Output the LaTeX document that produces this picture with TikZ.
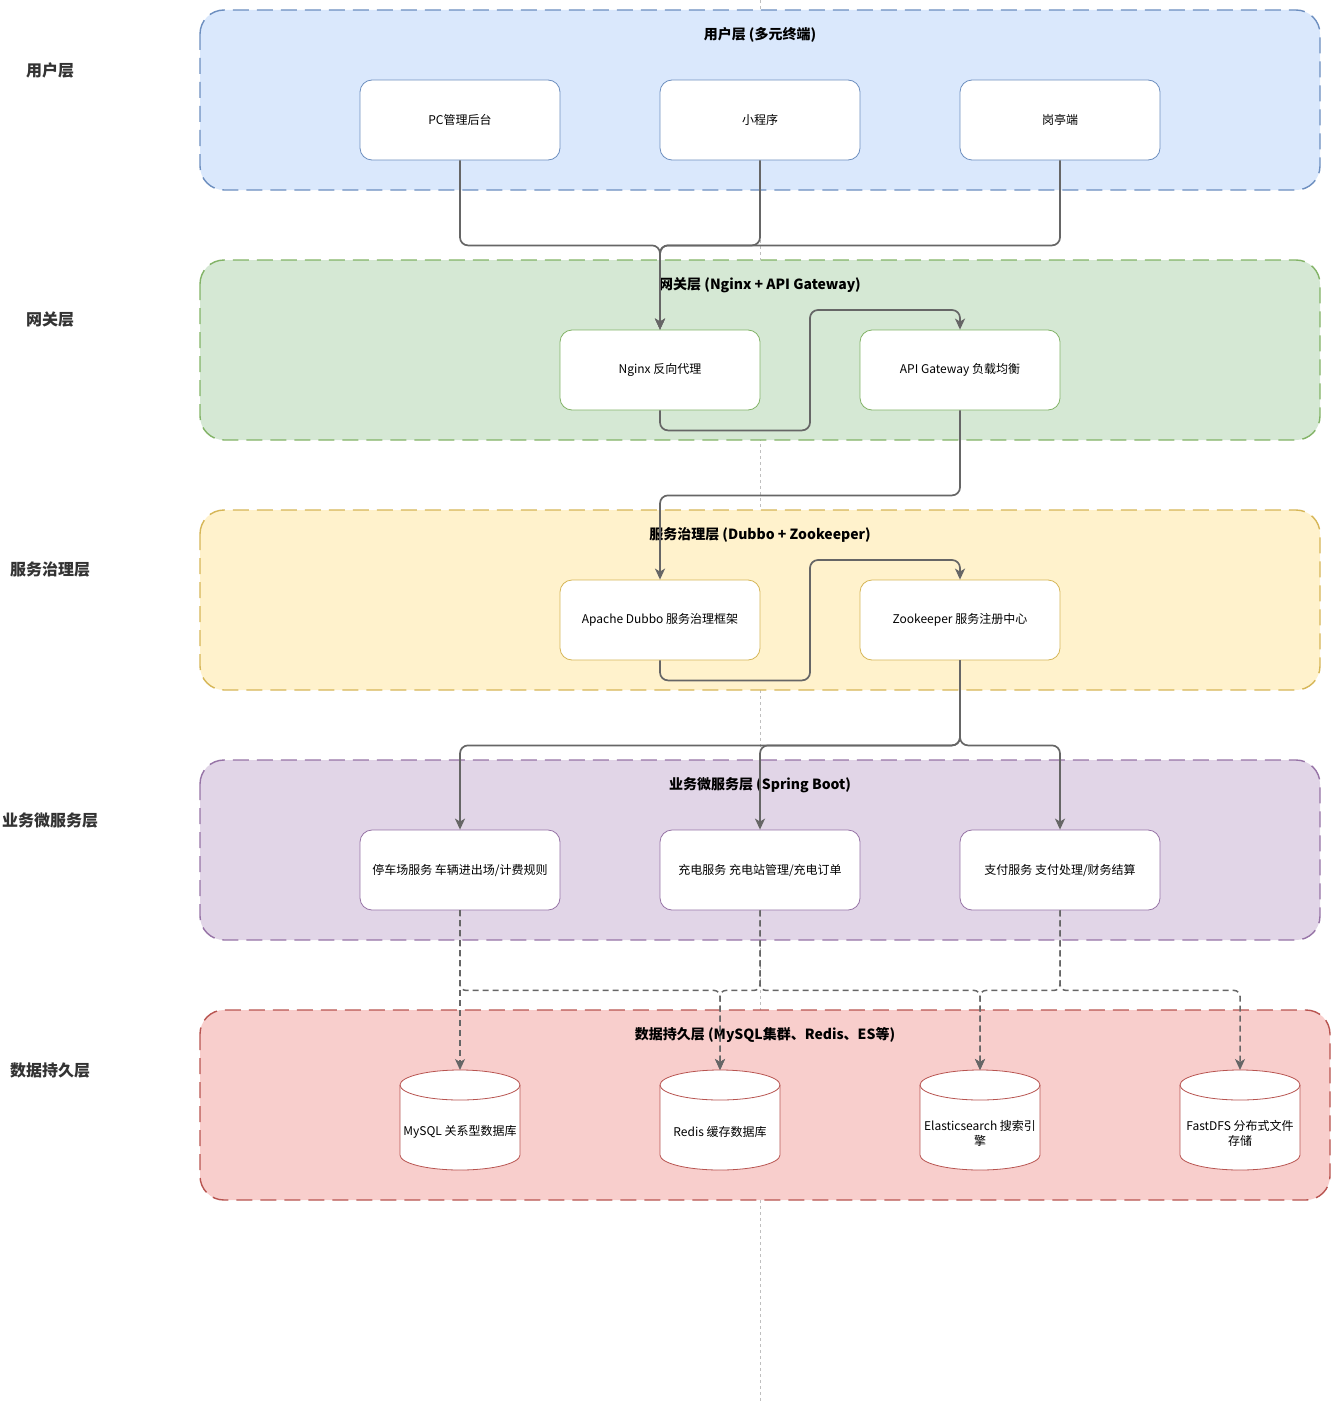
\documentclass[tikz,border=0pt]{standalone}
\usepackage{fontspec}
\setmainfont{Noto Sans CJK SC}
\usetikzlibrary{arrows.meta,calc}
\definecolor{ink}{HTML}{333333}
\definecolor{wire}{HTML}{666666}
\definecolor{userline}{HTML}{6C8EBF}
\definecolor{userfill}{HTML}{DAE8FC}
\definecolor{gateline}{HTML}{82B366}
\definecolor{gatefill}{HTML}{D5E8D4}
\definecolor{govline}{HTML}{D6B656}
\definecolor{govfill}{HTML}{FFF2CC}
\definecolor{bizline}{HTML}{9673A6}
\definecolor{bizfill}{HTML}{E1D5E7}
\definecolor{dataline}{HTML}{B85450}
\definecolor{datafill}{HTML}{F8CECC}

\begin{document}
\begin{tikzpicture}[x=1pt,y=-1pt,>={Stealth[length=11pt,width=10pt,inset=3pt]},
  every node/.style={font=\fontsize{12pt}{15pt}\selectfont,text=black},
  layer/.style 2 args={draw=#1,fill=#2,line width=1.4pt,
    dash pattern=on 16pt off 8pt,rounded corners=24pt},
  box/.style={draw=#1,fill=white,line width=0.8pt,rounded corners=12pt,
    minimum width=200pt,minimum height=80pt,inner sep=2pt},
  title/.style={font=\bfseries\fontsize{14pt}{16pt}\selectfont},
  side/.style={font=\bfseries\fontsize{16pt}{18pt}\selectfont,text=ink},
  flow/.style={->,wire,line width=1.7pt,rounded corners=8pt},
  dataflow/.style={->,wire,line width=1.5pt,dash pattern=on 6pt off 4pt,
    rounded corners=6pt},
  dbline/.style={draw=dataline,fill=white,line width=0.8pt}]
  \useasboundingbox (0,0) rectangle (1331,1402);

  % faint guide behind the layers
  \draw[black!25,line width=0.6pt,dash pattern=on 3pt off 3pt] (760,0) -- (760,1402);

  % layers
  \path[layer={userline}{userfill}] (200,10) rectangle (1320,190);
  \path[layer={gateline}{gatefill}] (200,260) rectangle (1320,440);
  \path[layer={govline}{govfill}] (200,510) rectangle (1320,690);
  \path[layer={bizline}{bizfill}] (200,760) rectangle (1320,940);
  \path[layer={dataline}{datafill}] (200,1010) rectangle (1330,1200);

  \node[title] (t-user) at (760,35) {用户层 (多元终端)};
  \node[title] (t-gate) at (760,285) {网关层 (Nginx + API Gateway)};
  \node[title] (t-gov) at (760,535) {服务治理层 (Dubbo + Zookeeper)};
  \node[title] (t-biz) at (760,785) {业务微服务层 (Spring Boot)};
  \node[title] (t-data) at (765,1035) {数据持久层 (MySQL集群、Redis、ES等)};

  \node[side] (s-user) at (50,70) {用户层};
  \node[side] (s-gate) at (50,320) {网关层};
  \node[side] (s-gov) at (50,570) {服务治理层};
  \node[side] (s-biz) at (50,820) {业务微服务层};
  \node[side] (s-data) at (50,1070) {数据持久层};

  % terminals
  \node[box=userline] (pc) at (460,120) {PC管理后台};
  \node[box=userline] (mini) at (760,120) {小程序};
  \node[box=userline] (booth) at (1060,120) {岗亭端};

  % gateway
  \node[box=gateline] (nginx) at (660,370) {Nginx 反向代理};
  \node[box=gateline] (api) at (960,370) {API Gateway 负载均衡};

  % governance
  \node[box=govline] (dubbo) at (660,620) {Apache Dubbo 服务治理框架};
  \node[box=govline] (zk) at (960,620) {Zookeeper 服务注册中心};

  % services
  \node[box=bizline] (park) at (460,870) {停车场服务 车辆进出场/计费规则};
  \node[box=bizline] (charge) at (760,870) {充电服务 充电站管理/充电订单};
  \node[box=bizline] (pay) at (1060,870) {支付服务 支付处理/财务结算};

  % storage cylinders
  \foreach \x/\nm in {460/mysql,720/redis,980/es,1240/dfs}{
    \path[dbline] (\x-60,1085) -- (\x-60,1155)
      arc[start angle=180,end angle=360,x radius=60pt,y radius=15pt]
      -- (\x+60,1085)
      arc[start angle=0,end angle=180,x radius=60pt,y radius=15pt] -- cycle;
    \draw[dataline,line width=0.8pt] (\x-60,1085)
      arc[start angle=180,end angle=360,x radius=60pt,y radius=15pt];
    \coordinate (\nm-top) at (\x,1070);
  }
  \node (mysql) at (460,1132) {MySQL 关系型数据库};
  \node (redis) at (720,1132) {Redis 缓存数据库};
  \node[align=center] (es) at (980,1133) {Elasticsearch 搜索引\\擎};
  \node[align=center] (dfs) at (1240,1133) {FastDFS 分布式文件\\存储};

  % requests
  \draw[flow] (pc.south) -- ++(0,85) -| (nginx.north);
  \draw[flow] (mini.south) -- ++(0,85) -| (nginx.north);
  \draw[flow] (booth.south) -- ++(0,85) -| (nginx.north);
  \draw[flow] (nginx.south) -- ++(0,20) -| (810,310) -| (api.north);
  \draw[flow] (api.south) -- ++(0,85) -| (dubbo.north);
  \draw[flow] (dubbo.south) -- ++(0,20) -| (810,560) -| (zk.north);
  \draw[flow] (zk.south) -- ++(0,85) -| (park.north);
  \draw[flow] (zk.south) -- ++(0,85) -| (charge.north);
  \draw[flow] (zk.south) -- ++(0,85) -| (pay.north);

  % data access
  \draw[dataflow] (park.south) -- (mysql-top);
  \draw[dataflow] (park.south) -- ++(0,80) -| (redis-top);
  \draw[dataflow] (charge.south) -- ++(0,80) -| (redis-top);
  \draw[dataflow] (charge.south) -- ++(0,80) -| (es-top);
  \draw[dataflow] (pay.south) -- ++(0,80) -| (es-top);
  \draw[dataflow] (pay.south) -- ++(0,80) -| (dfs-top);
\end{tikzpicture}
\end{document}
